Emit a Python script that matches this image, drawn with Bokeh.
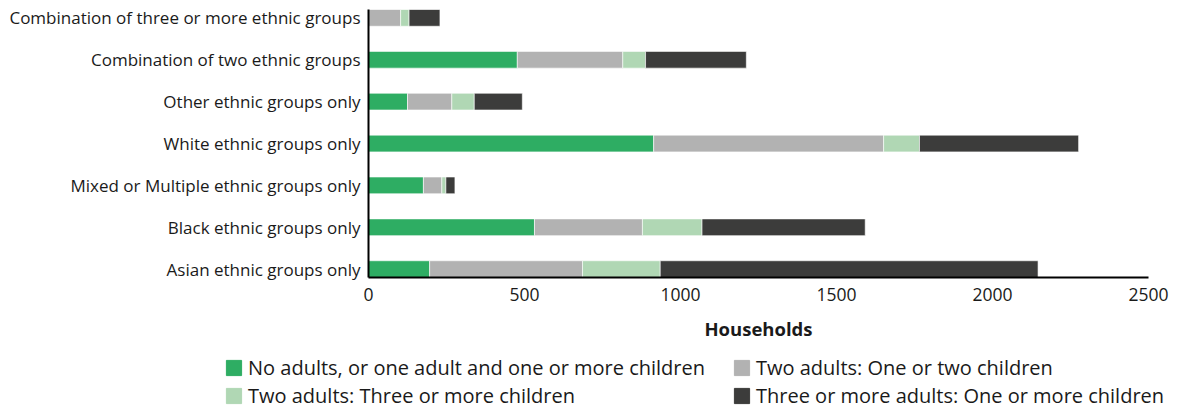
from bokeh.plotting import figure
from bokeh.layouts import column, row
from bokeh.models import ColumnDataSource, Range1d, FixedTicker, Legend, LegendItem
from bokeh.embed import file_html
from bokeh.resources import INLINE

categories = [
    "Asian ethnic groups only",
    "Black ethnic groups only",
    "Mixed or Multiple ethnic groups only",
    "White ethnic groups only",
    "Other ethnic groups only",
    "Combination of two ethnic groups",
    "Combination of three or more ethnic groups",
]
series_names = [
    "No adults, or one adult and one or more children",
    "Two adults: One or two children",
    "Two adults: Three or more children",
    "Three or more adults: One or more children",
]
no_adult_or_one = [196, 532, 176, 914, 125, 477, 0]
two_adults_1_2 = [490, 346, 59, 737, 142, 338, 103]
two_adults_3plus = [249, 191, 13, 115, 72, 73, 27]
three_plus_adults = [1211, 523, 29, 510, 154, 323, 99]
x_ticks = [0, 500, 1000, 1500, 2000, 2500]
colors = ["#2EAD63", "#B2B2B2", "#B0D7B4", "#3C3C3B"]

FONT = "Open Sans"

keys = ["s0", "s1", "s2", "s3"]
source = ColumnDataSource(dict(
    y=list(range(len(categories))),
    s0=no_adult_or_one, s1=two_adults_1_2, s2=two_adults_3plus, s3=three_plus_adults,
))

p = figure(width=1180, height=345, output_backend="svg", toolbar_location=None,
           x_range=Range1d(0, 2500), y_range=Range1d(-0.2, 6.2),
           min_border_left=368, min_border_right=32, min_border_top=9, min_border_bottom=68)

p.hbar_stack(keys, y="y", height=0.4, color=colors, source=source,
             line_color="white", line_width=0.6)

p.xgrid.visible = False
p.ygrid.visible = False
p.outline_line_color = None

xa = p.xaxis[0]
xa.ticker = FixedTicker(ticks=x_ticks)
xa.axis_line_color = "black"
xa.axis_line_width = 2
xa.major_tick_line_color = None
xa.minor_tick_line_color = None
xa.major_label_text_font = FONT
xa.major_label_text_font_size = "17.5px"
xa.major_label_text_color = "#1a1a1a"
xa.major_label_standoff = 4
xa.axis_label = "Households"
xa.axis_label_text_font = FONT
xa.axis_label_text_font_style = "bold"
xa.axis_label_text_font_size = "18.5px"
xa.axis_label_text_color = "#1a1a1a"
xa.axis_label_standoff = 12

ya = p.yaxis[0]
ya.ticker = FixedTicker(ticks=list(range(len(categories))))
ya.major_label_overrides = {i: c for i, c in enumerate(categories)}
ya.axis_line_color = "black"
ya.axis_line_width = 2
ya.major_tick_line_color = None
ya.minor_tick_line_color = None
ya.major_label_text_font = FONT
ya.major_label_text_font_size = "17px"
ya.major_label_text_color = "#1a1a1a"
ya.major_label_standoff = 2

# legend panel: same stacked data, kept out of view, used only for swatches
lg = figure(width=1180, height=64, output_backend="svg", toolbar_location=None,
            x_range=Range1d(0, 2500), y_range=Range1d(100, 101),
            min_border=0, x_axis_type=None, y_axis_type=None)
lg.xgrid.visible = False
lg.ygrid.visible = False
lg.outline_line_color = None
lg_renderers = lg.hbar_stack(keys, y="y", height=0.4, color=colors, source=source)
items = [LegendItem(label=n, renderers=[r]) for n, r in zip(series_names, lg_renderers)]

legend = Legend(items=items, orientation="horizontal", ncols=2,
                location=(224, 0), padding=0, margin=0,
                border_line_color=None, background_fill_alpha=0,
                glyph_width=19, glyph_height=19, label_standoff=5,
                label_width=483, label_height=21, spacing=1,
                label_text_font=FONT, label_text_font_size="20px",
                label_text_color="#1a1a1a")
lg.add_layout(legend, "center")

layout = column(p, row(lg), spacing=0)
open("out.html", "w").write(file_html(layout, INLINE))
